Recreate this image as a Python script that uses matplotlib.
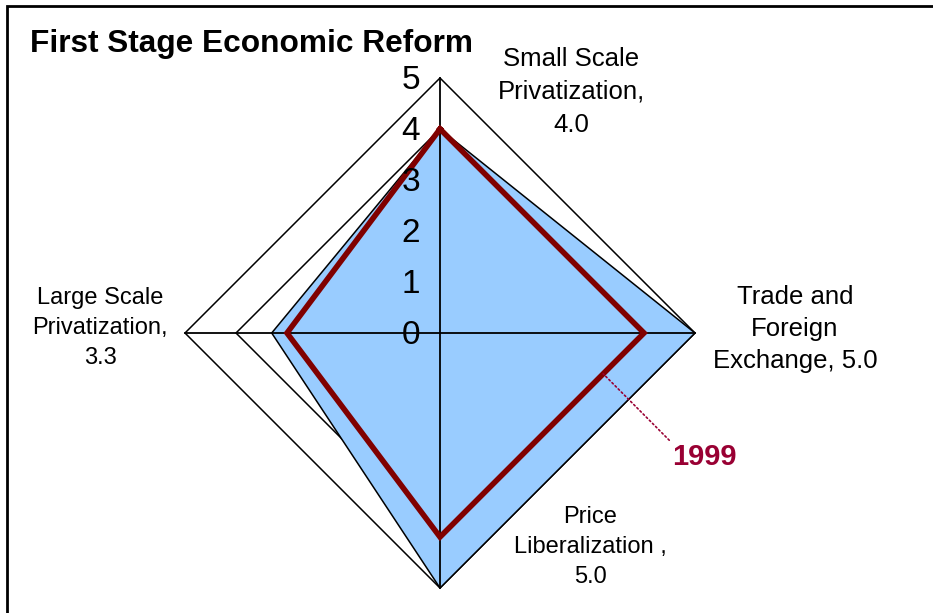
import matplotlib.pyplot as plt
import numpy as np
from matplotlib.patches import Rectangle, Polygon

plt.rcParams['font.family'] = ['Liberation Sans', 'DejaVu Sans']

# axes order: top, right, bottom, left (clockwise from top)
categories = ["Small Scale\nPrivatization,\n4.0",
              "Trade and\nForeign\nExchange, 5.0",
              "Price\nLiberalization ,\n5.0",
              "Large Scale\nPrivatization,\n3.3"]
current = [4.0, 5.0, 5.0, 3.3]
y1999 = [4.0, 4.0, 4.0, 3.0]
levels = [0, 1, 2, 3, 4, 5]

W, H = 933, 613
fig = plt.figure(figsize=(W / 100, H / 100), dpi=100)
ax = fig.add_axes([0, 0, 1, 1])
cx, cy, ppu = 440, 333, 51.0
ax.set_xlim(-cx / ppu, (W - cx) / ppu)
ax.set_ylim(-(H - cy) / ppu, cy / ppu)
ax.set_aspect('equal')
ax.axis('off')

ang = np.pi / 2 - np.arange(4) * np.pi / 2


def xy(vals):
    v = np.asarray(vals, dtype=float)
    return np.column_stack([v * np.cos(ang), v * np.sin(ang)])


# gridlines (diamonds)
for r in levels[1:]:
    ax.add_patch(Polygon(xy([r] * 4), closed=True, fill=False,
                         ec='black', lw=1.1, zorder=1))

# filled series
ax.add_patch(Polygon(xy(current), closed=True, fc='#99CCFF',
                     ec='black', lw=1.1, zorder=2))

# spokes
rmax = levels[-1]
ax.plot([0, 0], [-rmax, rmax], color='black', lw=1.3, zorder=3)
ax.plot([-rmax, rmax], [0, 0], color='black', lw=1.3, zorder=3)

# 1999 line
p = xy(y1999)
p = np.vstack([p, p[:1]])
ax.plot(p[:, 0], p[:, 1], color='#800000', lw=4, zorder=4,
        solid_joinstyle='miter')

# radial tick labels
for r in levels:
    ax.text(-0.39, r - 0.05, str(r), ha='right', va='center',
            fontsize=24, zorder=5)


def fxy(px, py):
    return px / W, 1 - py / H


ax.text(*fxy(571, 92), categories[0], transform=fig.transFigure,
        ha='center', va='center', fontsize=18.5, linespacing=1.45)
ax.text(*fxy(795, 329), categories[1], transform=fig.transFigure,
        ha='center', va='center', fontsize=18.5, linespacing=1.4)
ax.text(*fxy(590, 547), categories[2], transform=fig.transFigure,
        ha='center', va='center', fontsize=17, linespacing=1.45)
ax.text(*fxy(100, 328), categories[3], transform=fig.transFigure,
        ha='center', va='center', fontsize=17, linespacing=1.45)

fig.text(*fxy(30, 44), "First Stage Economic Reform", ha='left',
         va='center', fontsize=22.8, fontweight='bold')

# 1999 callout: point on the 1999 segment between right and bottom axes
t = 0.2
pt = p[1] * (1 - t) + p[2] * t
ax.annotate("1999", xy=pt, xytext=fxy(672, 457), textcoords='figure fraction',
            ha='left', va='center', fontsize=21, fontweight='bold',
            color='#990033', zorder=6,
            arrowprops=dict(arrowstyle='-', color='#990033', lw=1.2,
                            ls=':', relpos=(0, 1), shrinkA=0, shrinkB=0))

fig.add_artist(Rectangle((7 / W, -0.1), 1.2, 1 - 6 / H + 0.1,
                         transform=fig.transFigure, fill=False,
                         ec='black', lw=2.0))

fig.savefig('out.png', dpi=100)
